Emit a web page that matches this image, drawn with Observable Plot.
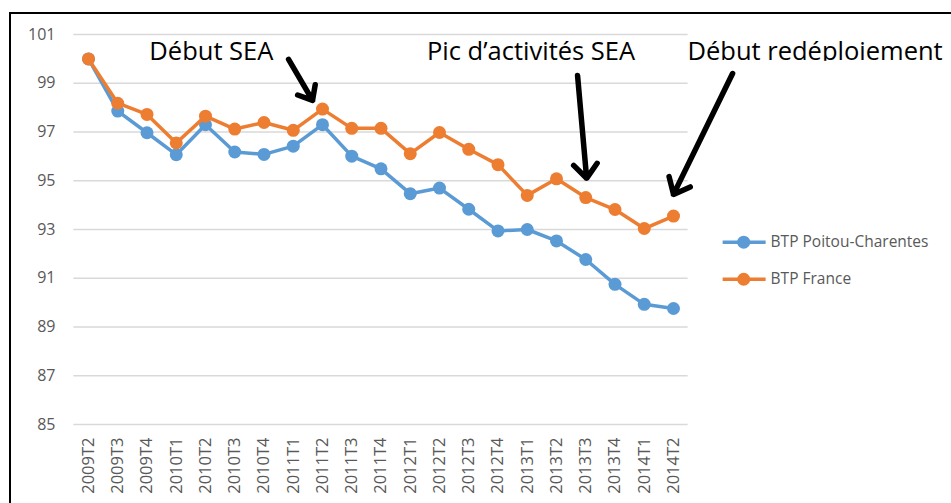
<!DOCTYPE html>
<html>
<head>
<meta charset="utf-8">
<script src="https://cdn.jsdelivr.net/npm/d3@7"></script>
<script src="https://cdn.jsdelivr.net/npm/@observablehq/plot@0.6"></script>
<style>
  html, body { margin: 0; padding: 0; background: #fff; }
  #wrap { position: relative; width: 951px; height: 503px; overflow: hidden; }
  #frame { position: absolute; left: 9px; top: 12px; right: -5px; bottom: -5px;
           border-left: 2.5px solid #000; border-top: 2.5px solid #000; pointer-events: none; }
</style>
</head>
<body>
<div id="wrap"><div id="frame"></div></div>
<script>
// ---- data ----
const quarters = ["2009T2","2009T3","2009T4","2010T1","2010T2","2010T3","2010T4",
  "2011T1","2011T2","2011T3","2011T4","2012T1","2012T2","2012T3","2012T4",
  "2013T1","2013T2","2013T3","2013T4","2014T1","2014T2"];
const poitou = [100.0, 97.86, 96.97, 96.07, 97.30, 96.18, 96.08, 96.42, 97.30, 96.01, 95.49,
  94.47, 94.70, 93.83, 92.94, 93.00, 92.53, 91.77, 90.75, 89.93, 89.76];
const france = [100.0, 98.18, 97.72, 96.55, 97.65, 97.12, 97.39, 97.07, 97.94, 97.15, 97.15,
  96.11, 96.98, 96.29, 95.66, 94.40, 95.08, 94.31, 93.82, 93.04, 93.55];
const seriesNames = ["BTP Poitou-Charentes", "BTP France"];
const seriesColors = ["#5B9BD5", "#ED7D31"];
const yTicks = [85, 87, 89, 91, 93, 95, 97, 99, 101];

// annotations (data coordinates: quarter index, index value)
const noteTexts = ["Début SEA", "Pic d’activités SEA", "Début redéploiement"];
const noteX = [4.2, 15.13, 24.84];
const noteY = [100.28, 100.28, 100.30];
const arrowX1 = [6.84, 16.72, 22.02];
const arrowY1 = [99.98, 99.32, 99.40];
const arrowX2 = [7.66, 17.03, 20.0];
const arrowY2 = [98.30, 95.10, 94.44];
// the reference image cuts off the bottom of the third note
const cropBox = {x1: 20.4, x2: 29.5, y1: 99.62, y2: 99.90};

// legend placement (data coordinates)
const legendY = [92.48, 90.96];
const legendLineX = [21.68, 23.15];
const legendDotX = 22.4;
const legendTextX = 23.32;

const n = quarters.length;
const rowsP = quarters.map((q, i) => ({i, q, v: poitou[i], s: seriesNames[0]}));
const rowsF = quarters.map((q, i) => ({i, q, v: france[i], s: seriesNames[1]}));
const notes = noteTexts.map((t, k) => ({t, x: noteX[k], y: noteY[k]}));
const arrows = arrowX1.map((x1, k) => ({x1, y1: arrowY1[k], x2: arrowX2[k], y2: arrowY2[k]}));
const legend = seriesNames.map((s, k) => ({s, y: legendY[k]}));

const chart = Plot.plot({
  width: 951,
  height: 503,
  marginTop: 34,
  marginBottom: 79,
  marginLeft: 88,
  marginRight: 278,
  x: {type: "linear", domain: [0, n - 1]},
  y: {domain: [85, 101]},
  color: {domain: seriesNames, range: seriesColors},
  style: {fontFamily: "'Open Sans', sans-serif", background: "transparent", overflow: "visible"},
  marks: [
    Plot.ruleY(yTicks, {x1: -0.5, x2: n - 0.5, stroke: "#d9d9d9", strokeWidth: 1.3}),
    Plot.axisY({ticks: yTicks, tickSize: 0, tickPadding: 33, fontSize: 16, color: "#595959", label: null}),
    Plot.axisX({ticks: d3.range(n), tickFormat: i => quarters[i], tickRotate: -90, tickSize: 0,
      tickPadding: 13, fontSize: 16.5, color: "#595959", label: null}),
    Plot.line(rowsP, {x: "i", y: "v", stroke: "s", strokeWidth: 3.5}),
    Plot.dot(rowsP, {x: "i", y: "v", fill: "s", r: 6.5}),
    Plot.line(rowsF, {x: "i", y: "v", stroke: "s", strokeWidth: 3.5}),
    Plot.dot(rowsF, {x: "i", y: "v", fill: "s", r: 6.5}),
    Plot.text(notes, {x: "x", y: "y", text: "t", fontSize: 25.5, fill: "#000", textAnchor: "middle", lineAnchor: "middle"}),
    Plot.rect([cropBox], {x1: "x1", x2: "x2", y1: "y1", y2: "y2", fill: "#fff"}),
    Plot.arrow(arrows, {x1: "x1", y1: "y1", x2: "x2", y2: "y2", stroke: "#000", strokeWidth: 5.5,
      headLength: 5, headAngle: 80}),
    Plot.link(legend, {x1: legendLineX[0], x2: legendLineX[1], y1: "y", y2: "y", stroke: "s", strokeWidth: 3.5}),
    Plot.dot(legend, {x: legendDotX, y: "y", fill: "s", r: 6.5}),
    Plot.text(legend, {x: legendTextX, y: "y", text: "s", textAnchor: "start", fontSize: 15.5, fill: "#595959"})
  ]
});
document.getElementById("wrap").insertBefore(chart, document.getElementById("frame"));
</script>
</body>
</html>
